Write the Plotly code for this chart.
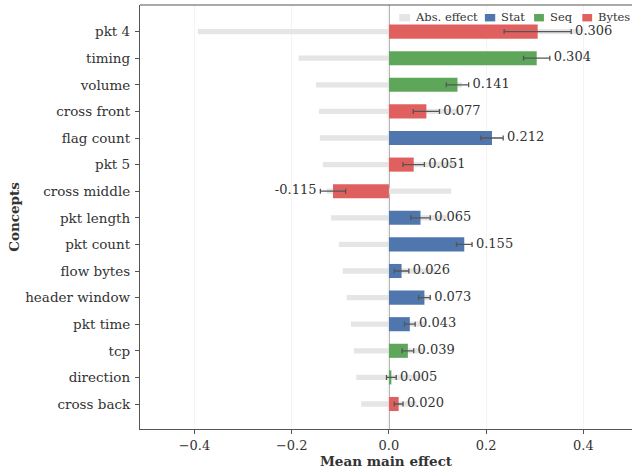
import plotly.graph_objects as go

concepts = ["pkt 4", "timing", "volume", "cross front", "flag count", "pkt 5",
            "cross middle", "pkt length", "pkt count", "flow bytes",
            "header window", "pkt time", "tcp", "direction", "cross back"]
groups = ["Bytes", "Seq", "Seq", "Bytes", "Stat", "Bytes", "Bytes", "Stat",
          "Stat", "Stat", "Stat", "Stat", "Seq", "Seq", "Bytes"]
main_effect = [0.306, 0.304, 0.141, 0.077, 0.212, 0.051, -0.115, 0.065,
               0.155, 0.026, 0.073, 0.043, 0.039, 0.005, 0.020]
main_err = [0.069, 0.027, 0.023, 0.027, 0.023, 0.022, 0.026, 0.020,
            0.016, 0.015, 0.012, 0.011, 0.012, 0.010, 0.009]
abs_effect = [0.393, 0.186, 0.150, 0.144, 0.142, 0.136, 0.128, 0.119,
              0.103, 0.095, 0.087, 0.078, 0.072, 0.067, 0.057]
x_ticks = [-0.4, -0.2, 0.0, 0.2, 0.4]
legend_names = ["Abs. effect", "Stat", "Seq", "Bytes"]

colors = {"Stat": "#4f77ae", "Seq": "#5ea75a", "Bytes": "#e0605f"}
gray = "#e5e5e5"
FONT = "DejaVu Serif"

idx = list(range(len(concepts)))
fig = go.Figure()

fig.add_trace(go.Bar(
    y=idx, x=[2 * a for a in abs_effect], base=[-a for a in abs_effect],
    orientation="h", width=0.2, marker=dict(color=gray, line=dict(width=0)),
    name="Abs. effect", hoverinfo="skip", showlegend=False))

for g in ["Stat", "Seq", "Bytes"]:
    ys = [i for i in idx if groups[i] == g]
    fig.add_trace(go.Bar(
        y=ys, x=[main_effect[i] for i in ys], orientation="h", width=0.53,
        marker=dict(color=colors[g], line=dict(width=0)), name=g, showlegend=False,
        error_x=dict(type="data", array=[main_err[i] for i in ys],
                     color="#555555", thickness=1.3, width=2.5)))

pos = [i for i in idx if main_effect[i] >= 0]
neg = [i for i in idx if main_effect[i] < 0]
fig.add_trace(go.Scatter(
    y=pos, x=[main_effect[i] + main_err[i] + 0.008 for i in pos],
    mode="text", text=[f"{main_effect[i]:.3f}" for i in pos],
    textposition="middle right", textfont=dict(family=FONT, size=13, color="#333333"),
    showlegend=False, hoverinfo="skip"))
fig.add_trace(go.Scatter(
    y=neg, x=[main_effect[i] - main_err[i] - 0.008 for i in neg],
    mode="text", text=[f"{main_effect[i]:.3f}" for i in neg],
    textposition="middle left", textfont=dict(family=FONT, size=13, color="#333333"),
    showlegend=False, hoverinfo="skip"))

fig.add_shape(type="line", x0=0, x1=0, y0=0, y1=1, yref="paper",
              line=dict(color="#b0b0b0", width=2), layer="below")
fig.add_shape(type="line", x0=0, x1=1, xref="paper", y0=1, y1=1, yref="paper",
              line=dict(color="#555555", width=1.2))

# custom legend (paper coords)
leg_colors = [gray, colors["Stat"], colors["Seq"], colors["Bytes"]]
leg_sq = [(0.527, 0.549), (0.701, 0.722), (0.801, 0.821), (0.899, 0.919)]
leg_tx = [0.559, 0.733, 0.833, 0.931]
for name, c, (a, b), tx in zip(legend_names, leg_colors, leg_sq, leg_tx):
    fig.add_shape(type="rect", xref="paper", yref="paper",
                  x0=a, x1=b, y0=0.9613, y1=0.9788,
                  fillcolor=c, line=dict(width=0))
    fig.add_annotation(xref="paper", yref="paper", x=tx, y=0.9706,
                       text=name, showarrow=False, xanchor="left", yanchor="middle",
                       xshift=-2, font=dict(family=FONT, size=11.5, color="#333333"))

fig.update_layout(
    width=632, height=470, barmode="overlay",
    margin=dict(l=139.5, r=0, t=4.5, b=41, autoexpand=False),
    plot_bgcolor="white", paper_bgcolor="white",
    font=dict(family=FONT, size=13, color="#333333"),
    showlegend=False,
    xaxis=dict(range=[-0.512, 0.5], tickvals=x_ticks,
               ticktext=["\u22120.4", "\u22120.2", "0.0", "0.2", "0.4"],
               showgrid=True, gridcolor="#f3f3f3", gridwidth=1, zeroline=False,
               showline=True, linecolor="#555555", linewidth=1.2, mirror=False,
               ticks="outside", ticklen=4, tickcolor="#555555", automargin=False,
               title=dict(text="<b>Mean main effect</b>", font=dict(family=FONT, size=13.5),
                          standoff=2),
               tickfont=dict(family=FONT, size=13)),
    yaxis=dict(range=[14.94, -1.0], tickvals=idx, ticktext=concepts,
               showgrid=False, zeroline=False, showline=True, linecolor="#555555",
               linewidth=1.2, ticks="outside", ticklen=4, tickcolor="#555555",
               automargin=False, ticklabelstandoff=2,
               title=dict(text="<b>Concepts</b>", font=dict(family=FONT, size=13.5),
                          standoff=2),
               tickfont=dict(family=FONT, size=13.5)),
)

fig.write_html("out.html", config={"displayModeBar": False},
               post_script="document.body.style.margin='0';document.body.style.overflow='hidden';")
